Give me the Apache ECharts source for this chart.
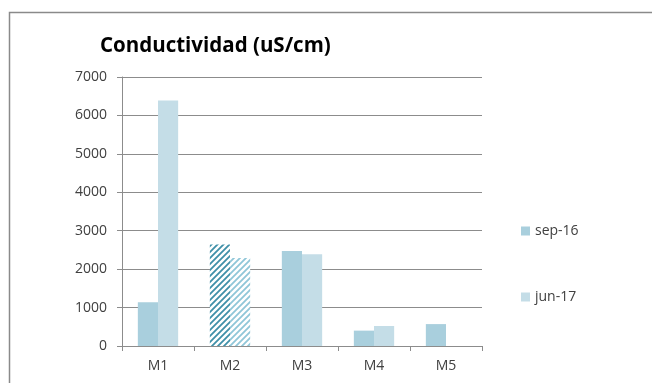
<!DOCTYPE html>
<html>
<head>
<meta charset="utf-8">
<script src="https://cdn.jsdelivr.net/npm/echarts@6/dist/echarts.min.js"></script>
<style>
  html, body { margin: 0; padding: 0; background: #fff; }
  #chart { width: 652px; height: 383px; }
</style>
</head>
<body>
<div id="chart"></div>
<script>
// Muestras y valores de conductividad (uS/cm) por campaña
const categories = ['M1', 'M2', 'M3', 'M4', 'M5'];
const seriesNames = ['sep-16', 'jun-17'];
const sep16 = [1140, 2640, 2470, 400, 570];
const jun17 = [6390, 2290, 2390, 520, null];
const yTicks = [0, 1000, 2000, 3000, 4000, 5000, 6000, 7000];

// Sample M2 is drawn with diagonal hatching
const hatchedIndex = 1;

function hatch(color) {
  const c = document.createElement('canvas');
  c.width = 6; c.height = 6;
  const g = c.getContext('2d');
  g.fillStyle = '#ffffff';
  g.fillRect(0, 0, 6, 6);
  g.strokeStyle = color;
  g.lineWidth = 1.8;
  g.beginPath();
  g.moveTo(-1, 7); g.lineTo(7, -1);
  g.moveTo(-4, 4); g.lineTo(4, -4);
  g.moveTo(2, 10); g.lineTo(10, 2);
  g.stroke();
  return { image: c, repeat: 'repeat' };
}

const solid = ['#a9cfdd', '#c4dde7'];
const hatchColors = ['#3f8fa8', '#8fc6d8'];

function buildData(values, s) {
  return values.map((v, i) => {
    if (i === hatchedIndex) {
      return { value: v, itemStyle: { color: hatch(hatchColors[s]) } };
    }
    return v;
  });
}

const chart = echarts.init(document.getElementById('chart'), null, { renderer: 'canvas' });
const font = 'Open Sans, Liberation Sans, sans-serif';
const axisGray = '#8c8c8c';
const textGray = '#404040';

chart.setOption({
  animation: false,
  backgroundColor: '#fff',
  title: {
    text: 'Conductividad (uS/cm)',
    left: 95, top: 31,
    textStyle: { fontFamily: font, fontSize: 20.5, fontWeight: 'bold', color: '#000' }
  },
  graphic: [{
    type: 'rect', silent: true,
    shape: { x: 9.5, y: 12.5, width: 700, height: 500 },
    style: { fill: null, stroke: '#8a8a8a', lineWidth: 1.5 }
  }],
  legend: {
    orient: 'vertical',
    left: 516, top: 219,
    itemGap: 52,
    itemWidth: 9, itemHeight: 9,
    icon: 'rect',
    textStyle: { fontFamily: font, fontSize: 14, color: textGray, padding: [0, 0, 0, 0] },
    data: seriesNames.map((n, i) => ({ name: n, itemStyle: { color: solid[i] } }))
  },
  grid: { left: 122, right: 170, top: 77, bottom: 37 },
  xAxis: {
    type: 'category',
    data: categories,
    axisLine: { lineStyle: { color: axisGray, width: 1 } },
    axisTick: { show: true, length: 5, lineStyle: { color: axisGray } },
    axisLabel: { fontFamily: font, fontSize: 14, color: textGray, margin: 13 }
  },
  yAxis: {
    type: 'value',
    min: yTicks[0], max: yTicks[yTicks.length - 1], interval: 1000,
    axisLine: { show: true, lineStyle: { color: axisGray, width: 1 } },
    axisTick: { show: true, length: 5, lineStyle: { color: axisGray } },
    splitLine: { lineStyle: { color: axisGray, width: 1 } },
    axisLabel: {
      fontFamily: font, fontSize: 14, color: textGray, margin: 15,
      formatter: v => String(v)
    }
  },
  series: [
    {
      name: seriesNames[0], type: 'bar',
      data: buildData(sep16, 0),
      itemStyle: { color: solid[0] },
      barGap: '0%', barCategoryGap: '44%'
    },
    {
      name: seriesNames[1], type: 'bar',
      data: buildData(jun17, 1),
      itemStyle: { color: solid[1] },
      barGap: '0%', barCategoryGap: '44%'
    }
  ]
});
</script>
</body>
</html>
